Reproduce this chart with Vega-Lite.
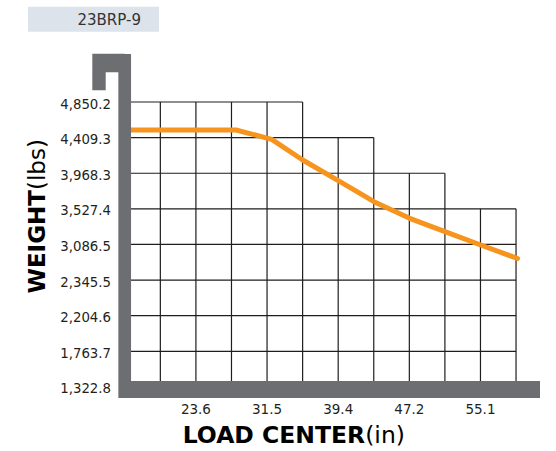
{
  "$schema": "https://vega.github.io/schema/vega-lite/v6.json",
  "autosize": {"type": "none"},
  "padding": {"left": 124.7, "top": 54, "right": 16, "bottom": 53},
  "width": 415.3,
  "height": 344,
  "config": {"font": "DejaVu Sans", "view": {"stroke": null}},
  "datasets": {
    "grid": [
      {"x": 15.748, "x2": 59.055, "y": 1322.8, "y2": 1322.8},
      {"x": 15.748, "x2": 59.055, "y": 1763.7, "y2": 1763.7},
      {"x": 15.748, "x2": 59.055, "y": 2204.6, "y2": 2204.6},
      {"x": 15.748, "x2": 59.055, "y": 2645.5, "y2": 2645.5},
      {"x": 15.748, "x2": 59.055, "y": 3086.5, "y2": 3086.5},
      {"x": 15.748, "x2": 59.055, "y": 3527.4, "y2": 3527.4},
      {"x": 15.748, "x2": 51.181, "y": 3968.3, "y2": 3968.3},
      {"x": 15.748, "x2": 43.307, "y": 4409.3, "y2": 4409.3},
      {"x": 15.748, "x2": 35.433, "y": 4850.2, "y2": 4850.2},
      {"x": 19.685, "x2": 19.685, "y": 1322.8, "y2": 4850.2},
      {"x": 23.622, "x2": 23.622, "y": 1322.8, "y2": 4850.2},
      {"x": 27.559, "x2": 27.559, "y": 1322.8, "y2": 4850.2},
      {"x": 31.496, "x2": 31.496, "y": 1322.8, "y2": 4850.2},
      {"x": 35.433, "x2": 35.433, "y": 1322.8, "y2": 4850.2},
      {"x": 39.37, "x2": 39.37, "y": 1322.8, "y2": 4409.3},
      {"x": 43.307, "x2": 43.307, "y": 1322.8, "y2": 4409.3},
      {"x": 47.244, "x2": 47.244, "y": 1322.8, "y2": 3968.3},
      {"x": 51.181, "x2": 51.181, "y": 1322.8, "y2": 3968.3},
      {"x": 55.118, "x2": 55.118, "y": 1322.8, "y2": 3527.4},
      {"x": 59.055, "x2": 59.055, "y": 1322.8, "y2": 3527.4}
    ],
    "capacity": [
      {"load_center_in": 15.75, "weight_lbs": 4503.5},
      {"load_center_in": 28.06, "weight_lbs": 4503.5},
      {"load_center_in": 32.01, "weight_lbs": 4388.4},
      {"load_center_in": 35.44, "weight_lbs": 4132.1},
      {"load_center_in": 39.38, "weight_lbs": 3875.8},
      {"load_center_in": 43.33, "weight_lbs": 3615.8},
      {"load_center_in": 47.28, "weight_lbs": 3410.3},
      {"load_center_in": 51.19, "weight_lbs": 3244.3},
      {"load_center_in": 55.14, "weight_lbs": 3079.7},
      {"load_center_in": 59.22, "weight_lbs": 2912.5}
    ]
  },
  "resolve": {"axis": {"x": "independent", "y": "independent"}},
  "layer": [
    {
      "data": {"name": "grid"},
      "mark": {"type": "rule", "color": "#1e1e1e", "strokeWidth": 1.2},
      "encoding": {
        "x": {
          "field": "x", "type": "quantitative",
          "scale": {"domain": [15.74, 61.707], "nice": false, "zero": false},
          "axis": {
            "orient": "bottom",
            "values": [23.622, 31.496, 39.37, 47.244, 55.118],
            "format": ".1f",
            "offset": -8.5,
            "translate": 0,
            "domain": true,
            "domainColor": "#6d6e71",
            "domainWidth": 17,
            "domainCap": "butt",
            "ticks": false,
            "tickSize": 0,
            "grid": false,
            "labelFont": "DejaVu Sans",
            "labelFontSize": 13.5,
            "labelColor": "#231f20",
            "labelPadding": 13.5,
            "labelBaseline": "top",
            "labelFlush": false,
            "labelOverlap": false,
            "title": "LOAD CENTER",
            "titleFont": "DejaVu Sans",
            "titleFontSize": 23.5,
            "titleFontWeight": "bold",
            "titleColor": "#000000",
            "titleAlign": "right",
            "titleBaseline": "alphabetic",
            "titleX": 240.5,
            "titleY": 53.2,
            "zindex": 1
          }
        },
        "x2": {"field": "x2"},
        "y": {
          "field": "y", "type": "quantitative",
          "scale": {"domain": [1185.4, 5444.5], "nice": false, "zero": false},
          "axis": {
            "orient": "left",
            "values": [1322.8, 1763.7, 2204.6, 2645.5, 3086.5, 3527.4, 3968.3, 4409.3, 4850.2, 5108.3, 5331.2],
            "labelExpr": "datum.value > 5000 ? '' : (datum.value == 2645.5 ? '2,345.5' : format(datum.value, ',.1f'))",
            "translate": 0,
            "domain": true,
            "domainColor": "#6d6e71",
            "domainWidth": 12.7,
            "domainCap": "butt",
            "ticks": true,
            "tickSize": 32.4,
            "tickWidth": 18.3,
            "tickColor": {"condition": {"test": "datum.value > 5000", "value": "#6d6e71"}, "value": "transparent"},
            "tickDash": {"condition": {"test": "datum.value > 5000 && datum.value < 5200", "value": [0, 19, 13.4, 100]}, "value": [1, 0]},
            "grid": false,
            "labelFont": "DejaVu Sans",
            "labelFontSize": 13.3,
            "labelColor": "#231f20",
            "labelPadding": -18.7,
            "labelOffset": 2.5,
            "labelAlign": "right",
            "labelBaseline": "middle",
            "labelOverlap": false,
            "labelFlush": false,
            "title": "WEIGHT",
            "titleFont": "DejaVu Sans",
            "titleFontSize": 23,
            "titleFontWeight": "bold",
            "titleColor": "#000000",
            "titleAngle": 270,
            "titleAlign": "right",
            "titleBaseline": "alphabetic",
            "titleX": -79.7,
            "titleY": 136,
            "zindex": 1
          }
        },
        "y2": {"field": "y2"}
      }
    },
    {
      "data": {"name": "capacity"},
      "mark": {"type": "line", "color": "#f7941d", "strokeWidth": 5, "strokeCap": "round", "strokeJoin": "round"},
      "encoding": {
        "x": {
          "field": "load_center_in", "type": "quantitative",
          "scale": {"domain": [15.74, 61.707], "nice": false, "zero": false},
          "axis": {
            "orient": "top",
            "values": [15.75],
            "labelExpr": "'23BRP-9'",
            "offset": 0,
            "translate": 0,
            "domain": false,
            "ticks": true,
            "tickRound": false,
            "tickOffset": -31.3,
            "tickSize": 47.3,
            "tickWidth": 131,
            "tickColor": "#dde3ea",
            "tickDash": [0, 22.3, 25, 100],
            "grid": false,
            "labelFont": "DejaVu Sans",
            "labelFontSize": 15,
            "labelColor": "#333333",
            "labelPadding": -13.5,
            "labelOffset": 15.7,
            "labelBaseline": "middle",
            "labelAlign": "center",
            "labelFlush": false,
            "labelOverlap": false,
            "labelBound": false,
            "title": "(in)",
            "titleFont": "DejaVu Sans",
            "titleFontSize": 23.5,
            "titleFontWeight": "normal",
            "titleColor": "#000000",
            "titleAlign": "left",
            "titleBaseline": "alphabetic",
            "titleX": 240.5,
            "titleY": 388.7
          }
        },
        "y": {
          "field": "weight_lbs", "type": "quantitative",
          "scale": {"domain": [1185.4, 5444.5], "nice": false, "zero": false},
          "axis": {
            "orient": "left",
            "translate": 0,
            "domain": false,
            "ticks": false,
            "labels": false,
            "grid": false,
            "title": "(lbs)",
            "titleFont": "DejaVu Sans",
            "titleFontSize": 23,
            "titleFontWeight": "normal",
            "titleColor": "#000000",
            "titleAngle": 270,
            "titleAlign": "left",
            "titleBaseline": "alphabetic",
            "titleX": -79.7,
            "titleY": 136
          }
        }
      }
    }
  ]
}
